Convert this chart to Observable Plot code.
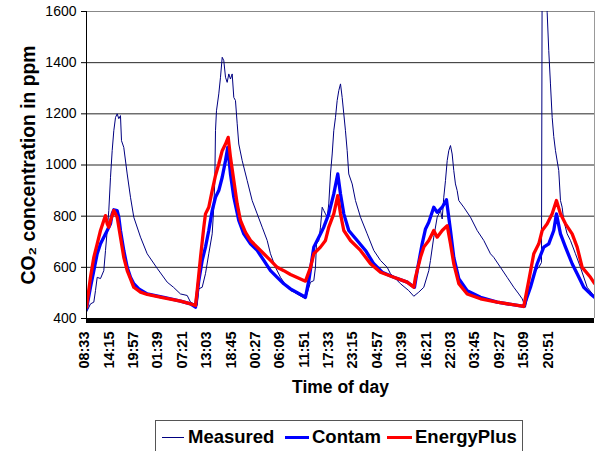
<!DOCTYPE html>
<html>
<head>
<meta charset="utf-8">
<script src="https://cdn.jsdelivr.net/npm/d3@7"></script>
<script src="https://cdn.jsdelivr.net/npm/@observablehq/plot@0.6"></script>
<style>
  body { margin: 0; background: #fff; font-family: "Liberation Sans", Arial, sans-serif; }
  #wrap { position: relative; width: 595px; height: 451px; overflow: hidden; background: #fff; }
  #chart svg { display: block; }
  #legend { position: absolute; left: 155px; top: 420px; width: 368px; height: 40px;
            border: 1px solid #555; box-sizing: border-box; background: #fff; }
  .sw { position: absolute; top: 15px; }
  .lt { position: absolute; top: 5px; font-size: 18.5px; font-weight: bold; color: #000; line-height: 21px; white-space: nowrap; }
</style>
</head>
<body>
<div id="wrap">
  <div id="chart"></div>
  <div id="legend"></div>
</div>
<script>
// ---- data (hours since 08:33 of day 1, CO2 ppm) ----
const xTickLabels = ["08:33","14:15","19:57","01:39","07:21","13:03","18:45","00:27","06:09","11:51",
                     "17:33","23:15","04:57","10:39","16:21","22:03","03:45","09:27","15:09","20:51"];
const tickStepHours = 5.7;
const spanHours = 118.7;
const yTicks = [400, 600, 800, 1000, 1200, 1400, 1600];
const seriesNames = ["Measured", "Contam", "EnergyPlus"];

const measured = [
  [0,425],[0.93,457],[1.71,464],[2.10,509],[2.50,561],[3.27,556],[4.04,587],[4.44,666],[4.84,744],[5.21,822],
  [5.61,952],[6.00,1056],[6.38,1134],[6.78,1186],[7.17,1200],[7.55,1181],[7.94,1193],[8.18,1095],[8.71,1069],
  [9.51,965],[10.28,874],[11.05,796],[12.62,718],[14.18,653],[16.52,596],[18.86,542],[20.33,522],[21.96,496],
  [23.53,490],[24.30,464],[25.86,451],
  [26.24,516],[27.03,522],[27.80,575],[28.57,653],[29.37,731],[29.74,835],[29.98,939],[30.14,1134],[30.37,1212],
  [30.91,1278],[31.31,1343],[31.71,1421],[32.08,1408],[32.48,1343],[32.87,1323],[33.25,1356],[33.64,1336],
  [34.04,1356],[34.42,1264],[34.81,1252],[35.21,1161],[35.58,1082],[36.38,1017],[37.55,939],[38.71,861],
  [39.88,809],[41.05,757],[42.22,705],[42.99,653],[44.16,600],[45.33,561],[46.89,522],[47.66,509],[48.43,503],
  [51.17,477],
  [52.34,542],[53.11,548],[53.50,600],[53.74,692],[54.28,705],[54.67,757],[55.07,835],[55.44,822],[55.84,809],
  [56.24,796],[56.61,848],[57.01,965],[57.41,1043],[57.78,1134],[58.18,1186],[58.57,1252],[58.95,1291],
  [59.35,1317],[59.74,1264],[60.12,1200],[60.51,1134],[60.91,1056],[61.28,965],[62.08,926],[62.85,861],
  [64.02,796],[65.58,731],[67.13,666],[68.69,627],[70.26,600],[71.03,575],[73.36,536],[75.30,509],[76.47,487],
  [77.64,503],[78.81,522],[79.98,587],[80.37,627],[81.14,718],[81.94,796],[82.71,822],[83.11,789],[83.48,874],
  [83.88,939],[84.28,1017],[84.65,1056],[85.05,1076],[85.44,1043],[85.82,978],[86.21,926],[86.61,900],
  [86.99,861],[88.15,835],[89.72,796],[91.29,744],[92.83,705],[94.39,653],[95.16,639],[96.73,600],[98.29,561],
  [99.84,522],[101.01,496],[101.80,477],[102.57,444],
  [103.34,509],[104.14,548],[104.91,587],[105.68,600],[106.31,619],[106.5,1950],[107.4,1750],[107.64,1596],
  [108.01,1447],[108.41,1317],[108.81,1186],[109.18,1111],[109.58,1056],[110.35,978],[110.75,861],[111.14,835],
  [111.52,783],[112.31,731],[113.08,705],[114.25,653],[115.42,600],[116.99,522],[118.53,490],[118.7,487]
];

const contam = [
  [0,438],[0.93,522],[1.71,587],[2.50,653],[3.27,692],[4.04,718],[4.84,744],[5.61,770],[6.00,809],[6.38,825],
  [7.17,822],[7.55,796],[7.94,744],[8.71,666],[9.51,600],[10.28,561],[11.05,536],[12.22,516],[14.18,496],
  [18.06,483],[21.96,468],[24.30,457],[25.47,444],
  [26.24,548],[27.03,627],[27.80,679],[28.57,744],[29.37,822],[30.14,874],[30.91,900],[31.71,952],[32.48,1017],
  [33.01,1069],[33.64,965],[34.42,874],[35.58,783],[36.75,731],[38.32,692],[39.88,666],[41.43,627],[42.99,587],
  [44.56,561],[46.10,536],[47.66,516],[51.17,483],
  [51.94,548],[53.11,679],[54.28,718],[55.44,757],[56.61,809],[57.78,887],[58.71,965],[59.35,887],[60.12,809],
  [61.28,744],[63.25,705],[65.19,666],[67.13,614],[69.09,581],[71.80,561],[74.93,542],[76.64,522],
  [77.27,587],[78.43,692],[79.21,750],[79.98,776],[81.14,835],[81.94,815],[83.11,835],[84.11,864],[85.05,744],
  [85.82,639],[86.99,556],[88.95,509],[92.06,483],[95.96,464],[102.17,447],
  [103.74,522],[105.30,614],[106.85,679],[108.01,692],[109.18,744],[109.81,809],[110.75,731],[111.92,679],
  [113.48,614],[114.65,575],[116.19,522],[117.76,496],[118.7,483]
];

const energyPlus = [
  [0,444],[0.93,561],[1.71,639],[2.50,692],[3.27,744],[4.04,783],[4.44,802],[4.84,770],[5.21,757],[5.61,783],
  [6.38,822],[7.17,796],[7.94,718],[8.71,639],[9.51,587],[10.28,555],[11.05,522],[12.62,503],[14.18,494],
  [18.06,481],[21.96,468],[24.30,457],[25.47,451],
  [25.86,509],[26.64,639],[27.41,757],[27.80,809],[28.57,835],[29.37,900],[30.14,959],[30.91,1004],[31.71,1056],
  [32.48,1082],[33.11,1108],[33.64,1030],[34.42,939],[35.21,848],[35.98,783],[37.15,737],[38.32,705],[39.88,679],
  [41.43,653],[42.99,627],[44.56,600],[46.10,587],[47.66,572],[51.17,546],
  [52.34,600],[53.11,653],[54.67,679],[55.84,705],[56.61,757],[57.78,809],[58.71,880],[59.35,809],[60.12,744],
  [61.68,705],[64.02,666],[66.36,614],[68.69,581],[71.80,561],[74.93,542],[76.47,522],
  [76.87,561],[78.04,639],[78.81,679],[79.98,705],[81.14,744],[81.94,718],[83.11,744],[84.28,763],[85.05,692],
  [85.82,614],[86.99,536],[88.95,496],[92.06,477],[95.96,464],[102.17,447],
  [103.34,548],[104.51,653],[105.68,692],[106.48,744],[107.64,770],[108.81,809],[109.81,861],[110.75,809],
  [111.92,770],[113.48,731],[114.65,679],[115.82,600],[117.76,561],[118.7,537]
];

// ---- chart ----
const colors = {Measured: "#000080", Contam: "#0000ff", EnergyPlus: "#ff0000"};
const widths = {Measured: 1, Contam: 3.3, EnergyPlus: 3.3};
const xTicks = xTickLabels.map((_, i) => i * tickStepHours);
const FONT = "'Liberation Sans', Arial, sans-serif";

const chart = Plot.plot({
  width: 595,
  height: 420,
  marginTop: 11,
  marginLeft: 86,
  marginRight: 1,
  marginBottom: 102,
  style: {fontFamily: FONT, background: "white", color: "black", overflow: "visible"},
  x: {domain: [0, spanHours]},
  y: {domain: [yTicks[0], yTicks[yTicks.length - 1]]},
  marks: [
    Plot.ruleY(yTicks.slice(1, -1), {stroke: "#000", strokeWidth: 1, strokeOpacity: 0.85}),
    Plot.ruleY([yTicks[yTicks.length - 1]], {stroke: "#888", strokeWidth: 1}),
    Plot.ruleX([spanHours], {stroke: "#999", strokeWidth: 1}),
    Plot.line(measured, {x: d => d[0], y: d => d[1], stroke: colors.Measured, strokeWidth: widths.Measured, clip: true}),
    Plot.line(contam, {x: d => d[0], y: d => d[1], stroke: colors.Contam, strokeWidth: widths.Contam, clip: true}),
    Plot.line(energyPlus, {x: d => d[0], y: d => d[1], stroke: colors.EnergyPlus, strokeWidth: widths.EnergyPlus, clip: true}),
    Plot.ruleX([0], {stroke: "#000", strokeWidth: 1}),
    Plot.ruleY([yTicks[0]], {stroke: "#000", strokeWidth: 5, dy: 2}),
    Plot.axisY({ticks: yTicks, tickSize: 5, tickPadding: 5, fontSize: 14, label: null, tickFormat: d => String(d)}),
    Plot.axisX({ticks: xTicks, tickSize: 0, tickPadding: 13, tickRotate: -90, fontSize: 14.5, fontWeight: "bold",
                label: null, dx: -2, tickFormat: d => xTickLabels[Math.round(d / tickStepHours)]}),
    Plot.text(["Time of day"], {frameAnchor: "bottom", dy: 74, fontSize: 17.5, fontWeight: "bold", textAnchor: "middle"}),
    Plot.text(["CO₂ concentration in ppm"], {frameAnchor: "left", dx: -58, rotate: -90, fontSize: 19.3,
                fontWeight: "bold", textAnchor: "middle"})
  ]
});
document.getElementById("chart").appendChild(chart);

// ---- legend ----
const legend = document.getElementById("legend");
const legendLayout = [
  {name: "Measured", line: [6, 22], text: 32},
  {name: "Contam", line: [129, 24], text: 156},
  {name: "EnergyPlus", line: [231, 25], text: 259}
];
legendLayout.forEach(it => {
  const sw = document.createElement("div");
  sw.className = "sw";
  sw.style.left = it.line[0] + "px";
  sw.style.width = it.line[1] + "px";
  const h = widths[it.name] >= 2 ? 3 : 1;
  sw.style.height = h + "px";
  sw.style.top = (16 - Math.floor(h / 2)) + "px";
  sw.style.background = colors[it.name];
  legend.appendChild(sw);
  const t = document.createElement("div");
  t.className = "lt";
  t.style.left = it.text + "px";
  t.textContent = it.name;
  legend.appendChild(t);
});
</script>
</body>
</html>
